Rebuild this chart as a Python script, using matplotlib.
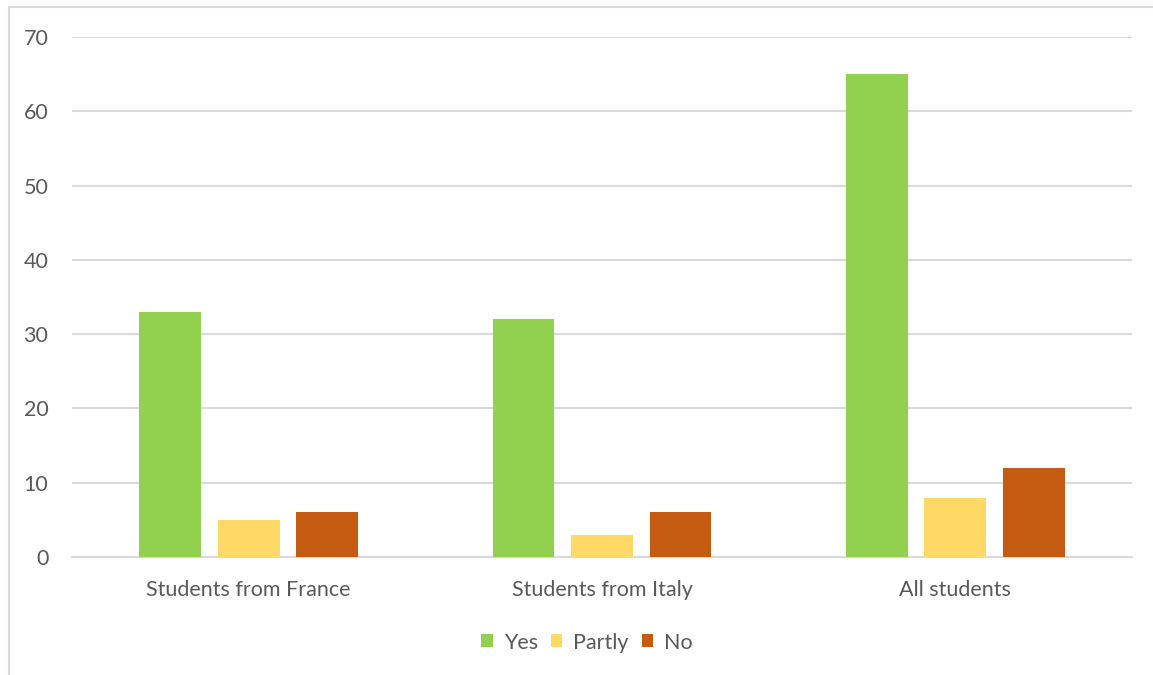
import numpy as np
import matplotlib.pyplot as plt
from matplotlib.patches import Rectangle

categories = ["Students from France", "Students from Italy", "All students"]
series_names = ["Yes", "Partly", "No"]
yes_vals = [33, 32, 65]
partly_vals = [5, 3, 8]
no_vals = [6, 6, 12]
colors = ["#92D050", "#FFD966", "#C55A11"]

plt.rcParams['font.family'] = ['Lato', 'DejaVu Sans']
text_color = "#595959"
grid_color = "#D9D9D9"

fig = plt.figure(figsize=(11.53, 6.75), dpi=100)
ax = fig.add_axes([0.0624, 0.1748, 0.9194, 0.7704])

x = np.arange(len(categories))
width = 0.175
step = 0.222
for i, (name, vals) in enumerate(zip(series_names, [yes_vals, partly_vals, no_vals])):
    ax.bar(x + (i - 1) * step, vals, width, color=colors[i], label=name, zorder=3)

ax.set_xlim(-0.5, 2.5)
ax.set_ylim(0, 70)
ax.set_yticks(range(0, 71, 10))
ax.set_xticks(x)
ax.set_xticklabels(categories)
ax.yaxis.grid(True, color=grid_color, linewidth=1.5, zorder=0)
ax.tick_params(axis='both', length=0, colors=text_color, labelsize=15.5)
ax.tick_params(axis='y', pad=17)
ax.tick_params(axis='x', pad=16.5)
for s in ['top', 'right', 'left']:
    ax.spines[s].set_visible(False)
ax.spines['bottom'].set_color(grid_color)
ax.spines['bottom'].set_linewidth(1.5)

leg = fig.legend(loc='center', bbox_to_anchor=(0.509, 0.048), ncol=3, frameon=False,
                 fontsize=15.5, handlelength=0.55, handleheight=0.55, handletextpad=0.5,
                 columnspacing=0.6)
for t in leg.get_texts():
    t.set_color(text_color)

# chart border
fig.patches.append(Rectangle((8.5 / 1153, -0.1), 1.2, (675 - 6.5) / 675 + 0.1,
                             transform=fig.transFigure, fill=False,
                             edgecolor=grid_color, linewidth=1.5))

fig.savefig("out.png", dpi=100)
